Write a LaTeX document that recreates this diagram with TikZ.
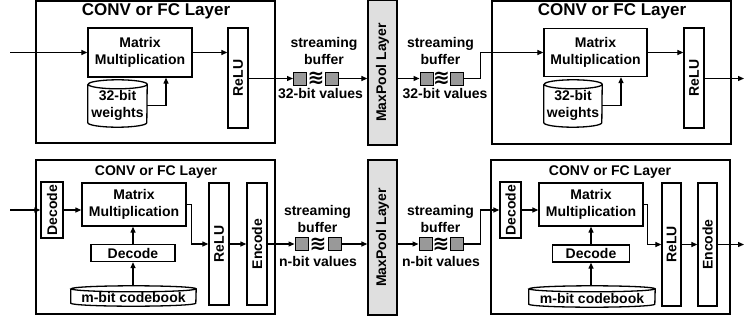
\documentclass[tikz,border=0pt]{standalone}
\usepackage{fontspec}
\setmainfont{Liberation Sans}
\newfontfamily\symfont{DejaVu Sans}
\usetikzlibrary{arrows.meta,positioning,calc}

\begin{document}
\begin{tikzpicture}[
    x=1pt, y=-1pt,
    every node/.style={font=\fontsize{14}{17}\selectfont\bfseries},
    layer/.style={rectangle, draw=black, line width=1.3pt, inner sep=0pt},
    title/.style={font=\fontsize{17}{20}\selectfont\bfseries},
    box/.style={rectangle, draw=black, line width=1.3pt, inner sep=0pt, align=center, fill=white},
    tank/.style={rectangle, inner sep=0pt, align=center},
    tankline/.style={line width=1.3pt},
    pool/.style={box, fill=gray!25},
    slot/.style={rectangle, draw=black, line width=1pt, fill=gray!80, minimum width=13pt, minimum height=13pt, inner sep=0pt},
    wave/.style={font=\fontsize{20}{20}\symfont\bfseries, inner sep=0pt},
    lbl/.style={align=center, inner sep=0pt},
    arr/.style={-{Triangle[length=6pt,width=5pt]}, line width=1.2pt}
]
\useasboundingbox (0,0) rectangle (744,324);

% top row, 32-bit layers
\node[layer, minimum width=239, minimum height=142] (layA) at (155.5,72) {};
\node[title] (titA) at (156,11) {CONV or FC Layer};
\node[box, minimum width=104, minimum height=49] (mmA) at (140,52.5) {Matrix\\Multiplication};
\node[tank, minimum width=59, minimum height=42.5] (wA) at (117.5,105.75) {32-bit\\weights};
\draw[tankline] (wA.north west) -- ([yshift=4.5pt]wA.south west)
    arc[start angle=180, end angle=360, x radius=29.5pt, y radius=4.5pt] -- (wA.north east)
    arc[start angle=0, end angle=360, x radius=29.5pt, y radius=4.5pt];
\node[box, minimum width=20, minimum height=100] (reluA) at (238,78) {\rotatebox{90}{ReLU}};

\node[slot] (sqA1) at (300,78.5) {};
\node[slot, right=18pt of sqA1] (sqA2) {};
\node[wave] (wvA) at ($(sqA1)!0.5!(sqA2)$) {≋};
\node[lbl] (bufA) at (324,51) {streaming\\buffer};
\node[lbl] (valA) at (320.5,94) {32-bit values};

\node[pool, minimum width=29, minimum height=145] (mpA) at (382.5,72.5) {\rotatebox{90}{MaxPool Layer}};

\node[slot] (sqB1) at (426.5,78.5) {};
\node[slot, right=16pt of sqB1] (sqB2) {};
\node[wave] (wvB) at ($(sqB1)!0.5!(sqB2)$) {≋};
\node[lbl] (bufB) at (440.5,51) {streaming\\buffer};
\node[lbl] (valB) at (445,94) {32-bit values};

\node[layer, minimum width=239, minimum height=143] (layB) at (611.5,72.5) {};
\node[title] (titB) at (612,11) {CONV or FC Layer};
\node[box, minimum width=103, minimum height=48] (mmB) at (595.5,52.5) {Matrix\\Multiplication};
\node[tank, minimum width=58, minimum height=42.5] (wB) at (573,105.75) {32-bit\\weights};
\draw[tankline] (wB.north west) -- ([yshift=4.5pt]wB.south west)
    arc[start angle=180, end angle=360, x radius=29pt, y radius=4.5pt] -- (wB.north east)
    arc[start angle=0, end angle=360, x radius=29pt, y radius=4.5pt];
\node[box, minimum width=20, minimum height=100] (reluB) at (694,78) {\rotatebox{90}{ReLU}};

\coordinate (inA) at (10,52.5);
\coordinate (outB) at (744,78.5);
\draw[arr] (inA) -- (mmA.west);
\draw[arr] (mmA.east) -- (mmA.east -| reluA.west);
\draw[arr] (wA.east) -| ([xshift=26pt]mmA.south);
\draw[arr] (sqA1.west -| reluA.east) -- (sqA1.west);
\draw[arr] (sqA2.east) -- (sqA2.east -| mpA.west);
\draw[arr] (sqB1.west -| mpA.east) -- (sqB1.west);
\draw[arr] (sqB2.east) -- ++(17,0) |- (mmB.west);
\draw[arr] (mmB.east) -- (mmB.east -| reluB.west);
\draw[arr] (wB.east) -| ([xshift=25.5pt]mmB.south);
\draw[arr] (outB -| reluB.east) -- (outB);

% bottom row, n-bit layers
\node[layer, minimum width=239, minimum height=154] (layC) at (155.5,237) {};
\node (titC) at (156,172) {CONV or FC Layer};
\node[box, minimum width=22, minimum height=56] (decC1) at (52,210) {\rotatebox{90}{Decode}};
\node[box, minimum width=104, minimum height=43] (mmC) at (134,204.5) {Matrix\\Multiplication};
\node[box, minimum width=84, minimum height=17] (decC2) at (133,253) {Decode};
\node[tank, minimum width=125, minimum height=17] (cbC) at (133.5,297.5) {m-bit codebook};
\draw[tankline] (cbC.north west) -- ([yshift=3pt]cbC.south west)
    arc[start angle=180, end angle=360, x radius=62.5pt, y radius=3pt] -- (cbC.north east)
    arc[start angle=0, end angle=360, x radius=62.5pt, y radius=3pt];
\node[box, minimum width=20, minimum height=122] (reluC) at (219,244) {\rotatebox{90}{ReLU}};
\node[box, minimum width=20, minimum height=122] (encC) at (257,244) {\rotatebox{90}{Encode}};

\node[slot] (sqC1) at (301.5,244) {};
\node[slot, right=19pt of sqC1] (sqC2) {};
\node[wave] (wvC) at ($(sqC1)!0.5!(sqC2)$) {≋};
\node[lbl] (bufC) at (317.5,219) {streaming\\buffer};
\node[lbl] (valC) at (318,261) {n-bit values};

\node[pool, minimum width=29, minimum height=155] (mpC) at (382.5,237.5) {\rotatebox{90}{MaxPool Layer}};

\node[slot] (sqD1) at (425.5,244) {};
\node[slot, right=17pt of sqD1] (sqD2) {};
\node[wave] (wvD) at ($(sqD1)!0.5!(sqD2)$) {≋};
\node[lbl] (bufD) at (440.5,219) {streaming\\buffer};
\node[lbl] (valD) at (441,261) {n-bit values};

\node[layer, minimum width=239, minimum height=154] (layD) at (610.5,237) {};
\node (titD) at (610,172) {CONV or FC Layer};
\node[box, minimum width=21, minimum height=56] (decD1) at (510.5,210) {\rotatebox{90}{Decode}};
\node[box, minimum width=104, minimum height=43] (mmD) at (591,204.5) {Matrix\\Multiplication};
\node[box, minimum width=77, minimum height=17] (decD2) at (591,253.5) {Decode};
\node[tank, minimum width=126, minimum height=18] (cbD) at (592,298) {m-bit codebook};
\draw[tankline] (cbD.north west) -- ([yshift=3pt]cbD.south west)
    arc[start angle=180, end angle=360, x radius=63pt, y radius=3pt] -- (cbD.north east)
    arc[start angle=0, end angle=360, x radius=63pt, y radius=3pt];
\node[box, minimum width=19, minimum height=123] (reluD) at (671.5,244.5) {\rotatebox{90}{ReLU}};
\node[box, minimum width=19, minimum height=123] (encD) at (707.5,244.5) {\rotatebox{90}{Encode}};

\coordinate (inC) at (10,210);
\coordinate (outD) at (744,244.5);
\draw[arr] (inC) -- (decC1.west);
\draw[arr] (decC1.east) -- (decC1.east -| mmC.west);
\draw[arr] ([yshift=3pt]decC2.south |- cbC.north) -- (decC2.south);
\draw[arr] (decC2.north) -- (decC2.north |- mmC.south);
\draw[arr] (mmC.east) -- ++(5,0) |- (reluC.west);
\draw[arr] (reluC.east) -- (encC.west);
\draw[arr] (encC.east) -- (sqC1.west);
\draw[arr] (sqC2.east) -- (sqC2.east -| mpC.west);
\draw[arr] (sqD1.west -| mpC.east) -- (sqD1.west);
\draw[arr] (sqD2.east) -- ++(17,0) |- (decD1.west);
\draw[arr] (decD1.east) -- (decD1.east -| mmD.west);
\draw[arr] ([yshift=3pt]decD2.south |- cbD.north) -- (decD2.south);
\draw[arr] (decD2.north) -- (decD2.north |- mmD.south);
\draw[arr] (mmD.east) -- ++(4,0) |- (reluD.west);
\draw[arr] (reluD.east) -- (encD.west);
\draw[arr] (encD.east) -- (outD);
\end{tikzpicture}
\end{document}
